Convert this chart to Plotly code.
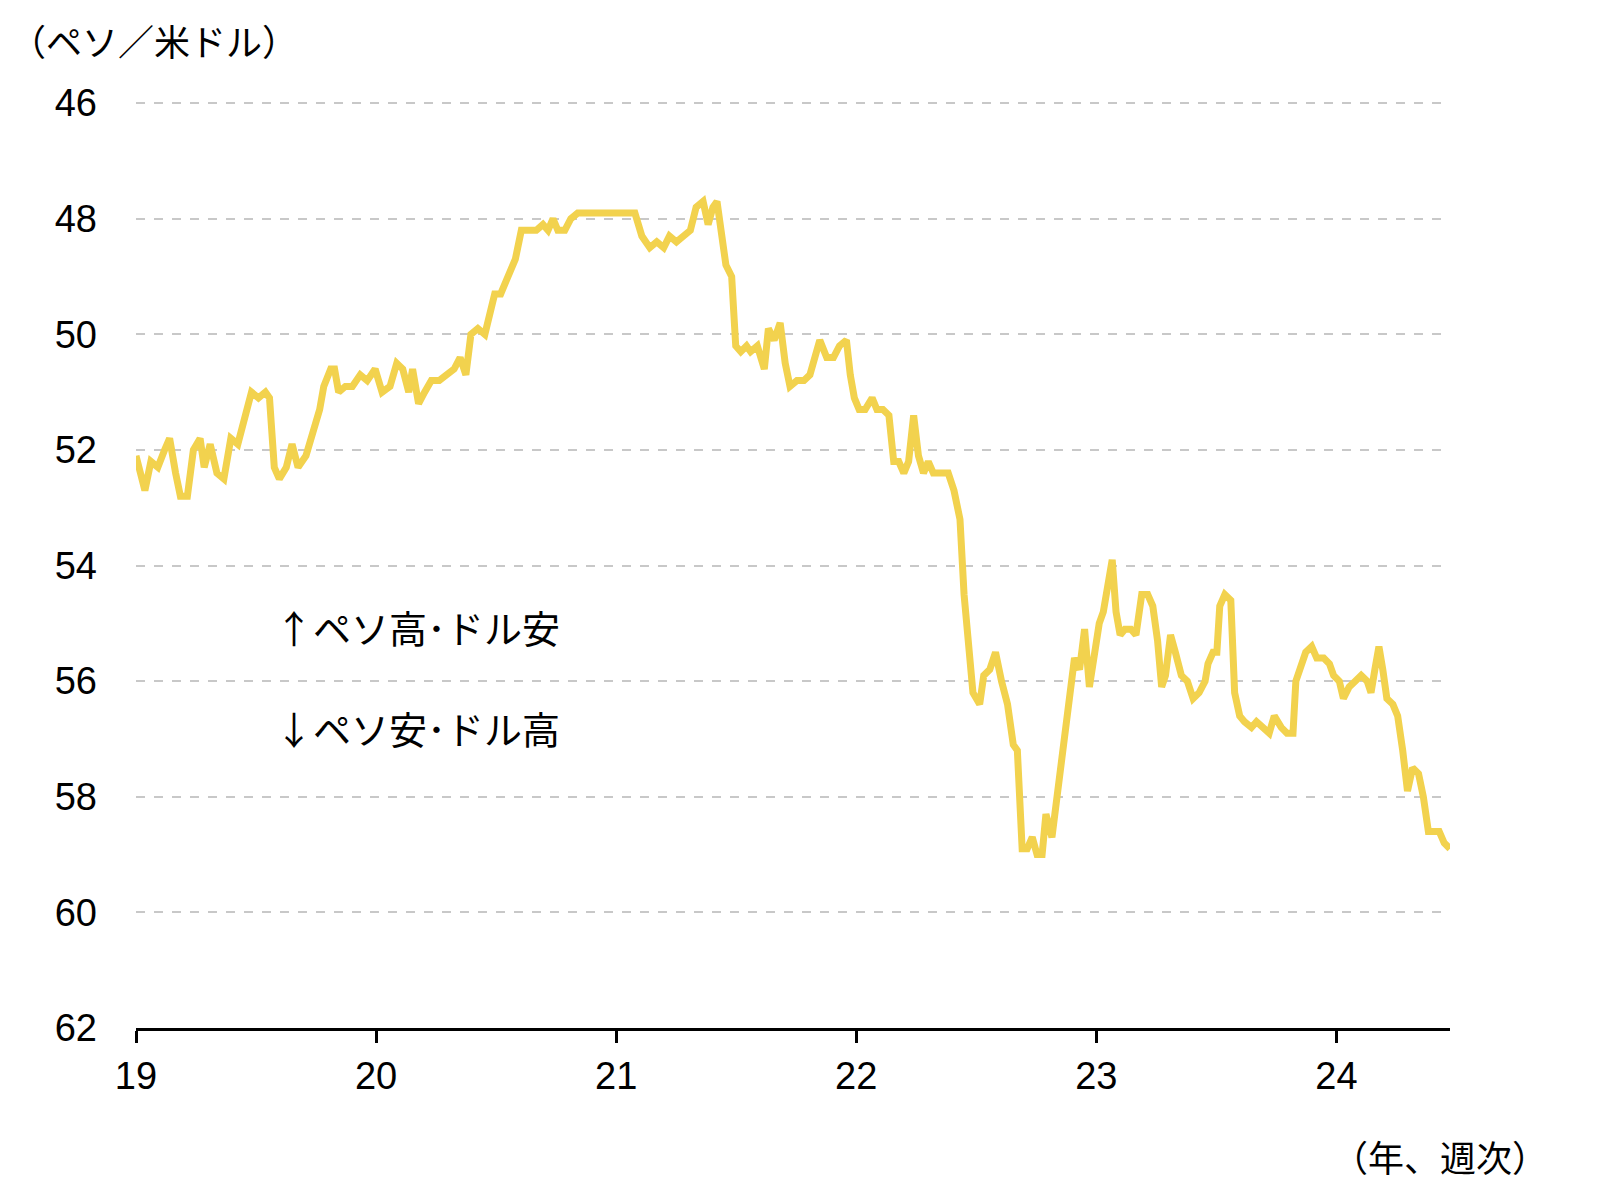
import plotly.graph_objects as go

# weekly peso/USD rate, x as years since 2019
year_offset = [0.000,.037,.062,.091,.119,.140,.165,.185,.214,.239,.267,.284,.309,.337,.366,.395,.424,.453,.481,.510,.539,.556,.576,.597,.626,.650,.675,.708,.737,.765,.782,.811,.827,.844,.872,.901,.934,.963,.996,
1.025,1.058,1.086,1.111,1.136,1.152,1.177,1.202,1.230,1.263,1.292,1.325,1.350,1.374,1.395,1.424,1.453,1.473,1.494,1.519,1.551,1.580,1.605,1.634,1.667,1.695,1.716,1.737,1.757,1.786,1.811,1.840,1.868,1.893,1.922,1.963,
2.004,2.045,2.078,2.107,2.140,2.169,2.198,2.222,2.251,2.280,2.309,2.333,2.362,2.383,2.403,2.420,2.436,2.457,2.481,2.498,2.519,2.543,2.560,2.588,2.617,2.634,2.658,2.683,2.704,2.724,2.753,2.782,2.807,2.827,2.848,2.877,2.905,2.930,2.959,2.975,2.992,
3.012,3.037,3.066,3.086,3.111,3.136,3.156,3.177,3.198,3.218,3.239,3.259,3.280,3.300,3.321,3.362,3.383,3.407,3.432,3.449,3.465,3.486,3.514,3.531,3.556,3.580,3.605,3.630,3.654,3.671,3.691,3.712,3.733,3.753,3.774,3.790,3.815,3.835,3.860,3.885,3.909,3.930,3.951,3.971,3.992,
4.012,4.029,4.053,4.066,4.082,4.099,4.119,4.144,4.165,4.189,4.214,4.235,4.255,4.272,4.288,4.309,4.329,4.354,4.379,4.403,4.428,4.453,4.465,4.486,4.502,4.514,4.535,4.560,4.576,4.597,4.617,4.646,4.667,4.691,4.720,4.741,4.770,4.794,4.819,4.831,4.848,4.872,4.897,4.918,4.947,4.971,4.988,
5.012,5.029,5.053,5.078,5.103,5.128,5.144,5.160,5.177,5.193,5.210,5.235,5.255,5.276,5.296,5.317,5.342,5.362,5.383,5.403,5.428,5.449,5.473]

rate = [52.1,52.7,52.2,52.3,52.0,51.8,52.4,52.8,52.8,52.0,51.8,52.3,51.9,52.4,52.5,51.8,51.9,51.4,51.0,51.1,51.0,51.1,52.3,52.5,52.3,51.9,52.3,52.1,51.7,51.3,50.9,50.6,50.6,51.0,50.9,50.9,50.7,50.8,50.6,
51.0,50.9,50.5,50.6,51.0,50.6,51.2,51.0,50.8,50.8,50.7,50.6,50.4,50.7,50.0,49.9,50.0,49.7,49.3,49.3,49.0,48.7,48.2,48.2,48.2,48.1,48.2,48.0,48.2,48.2,48.0,47.9,47.9,47.9,47.9,47.9,
47.9,47.9,47.9,48.3,48.5,48.4,48.5,48.3,48.4,48.3,48.2,47.8,47.7,48.1,47.8,47.7,48.2,48.8,49.0,50.2,50.3,50.2,50.3,50.2,50.6,49.9,50.1,49.8,50.5,50.9,50.8,50.8,50.7,50.4,50.1,50.4,50.4,50.2,50.1,50.7,51.1,
51.3,51.3,51.1,51.3,51.3,51.4,52.2,52.2,52.4,52.2,51.4,52.1,52.4,52.2,52.4,52.4,52.4,52.7,53.2,54.5,55.2,56.2,56.4,55.9,55.8,55.5,56.0,56.4,57.1,57.2,58.9,58.9,58.7,59.0,59.0,58.3,58.7,58.0,57.1,56.2,55.6,55.8,55.1,56.1,55.6,
55.0,54.8,54.3,53.9,54.8,55.2,55.1,55.1,55.2,54.5,54.5,54.7,55.3,56.1,55.9,55.2,55.5,55.9,56.0,56.3,56.2,56.0,55.7,55.5,55.5,54.7,54.5,54.6,56.2,56.6,56.7,56.8,56.7,56.8,56.9,56.6,56.8,56.9,56.9,56.0,55.8,55.5,55.4,55.6,55.6,55.7,55.9,
56.0,56.3,56.1,56.0,55.9,56.0,56.2,55.8,55.4,55.8,56.3,56.4,56.6,57.2,57.9,57.5,57.6,58.0,58.6,58.6,58.6,58.8,58.9]

x = [2019 + v for v in year_offset]
tick_years = [2019, 2020, 2021, 2022, 2023, 2024]
tick_labels = ["19", "20", "21", "22", "23", "24"]
y_ticks = [46, 48, 50, 52, 54, 56, 58, 60, 62]

font = "Noto Sans CJK JP"

fig = go.Figure()
fig.add_trace(go.Scatter(x=x, y=rate, mode="lines",
                         line=dict(color="#F2D24E", width=7), showlegend=False))

fig.update_layout(
    autosize=True,
    paper_bgcolor="white", plot_bgcolor="white",
    margin=dict(l=128, r=142, t=94, b=178),
    font=dict(family=font, size=38, color="black"),
    xaxis=dict(range=[2019, 2024.473], tickvals=tick_years, ticktext=tick_labels,
               showgrid=False, showline=True, linecolor="black", linewidth=3,
               ticks="outside", tickcolor="black", tickwidth=3, ticklen=12,
               tickfont=dict(size=38, family="Liberation Sans")),
    yaxis=dict(range=[62, 45.98], tickvals=y_ticks, showgrid=True,
               gridcolor="#c8c8c8", griddash="dash", gridwidth=2,
               zeroline=False, ticks="", ticklabelstandoff=38,
               tickfont=dict(size=38, family="Liberation Sans")),
    annotations=[
        dict(text="（ペソ／米ドル）", xref="paper", yref="paper", x=0, y=1.0,
             xshift=-128, yshift=62, xanchor="left", yanchor="middle", showarrow=False,
             font=dict(size=36, family=font)),
        dict(text="（年、週次）", xref="paper", yref="paper", x=1.0, y=0,
             xshift=100, yshift=-128, xanchor="right", yanchor="middle",
             showarrow=False, font=dict(size=36, family=font)),
        dict(text="↑ペソ高･ドル安", xref="x", yref="y", x=2019.57, y=55.05,
             xanchor="left", yanchor="middle", showarrow=False,
             font=dict(size=38, family=font)),
        dict(text="↓ペソ安･ドル高", xref="x", yref="y", x=2019.57, y=56.8,
             xanchor="left", yanchor="middle", showarrow=False,
             font=dict(size=38, family=font)),
    ],
)

fig.write_html("out.html", default_width="100%", default_height="100vh",
               config={"responsive": True})
